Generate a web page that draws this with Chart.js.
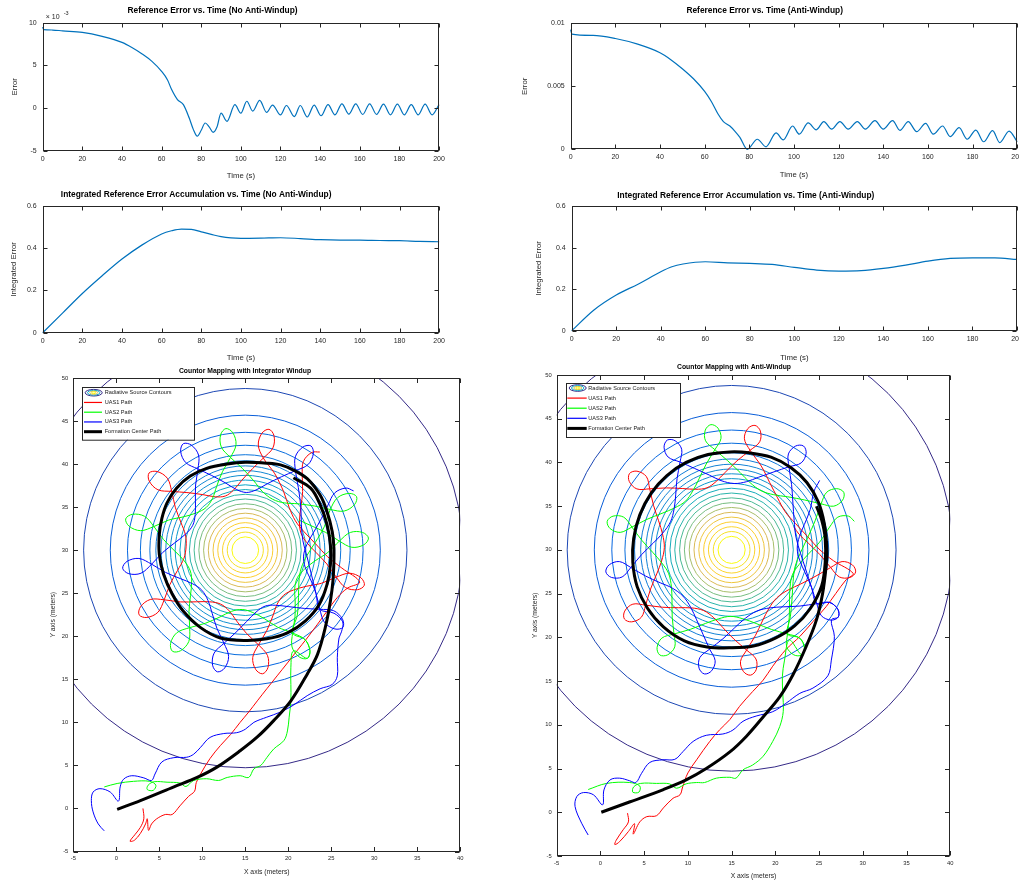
<!DOCTYPE html>
<html><head><meta charset="utf-8">
<script src="https://cdn.jsdelivr.net/npm/chart.js@4.4.1/dist/chart.umd.min.js"></script>
<style>
html,body{margin:0;padding:0;background:#fff;overflow:hidden;width:1019px;height:882px;position:relative;}
canvas{position:absolute;}
</style></head><body>
<canvas id="c1"></canvas><canvas id="c2"></canvas><canvas id="c3"></canvas><canvas id="c4"></canvas><canvas id="c5"></canvas><canvas id="c6"></canvas>
<script>
// ---------------- DATA ----------------
const errTimeNoAW = [0,0.5,5,10,20,30,40,45,50,55,60,63,65,68,71,74,76,78,80,82,84,86,88,90,93,97,100,103,106,109.5,113,116,120,123,127,130,133.5,137,140.5,144,147.5,151,154.5,158,161.5,165,168.5,172,175.5,179,182.5,186,189.5,193,196.5,200];
const errNoAW = [9.5,9.2,9.15,9.05,8.87,8.4,7.7,7.1,6.37,5.5,4.3,3.3,2.2,1.0,0.4,-1.2,-2.5,-3.3,-2.6,-1.75,-2.2,-2.85,-2.2,-0.6,-1.55,0.4,-0.6,0.8,-0.35,0.9,-0.5,0.35,-0.8,0.3,-1.0,0.3,-1.05,0.35,-0.9,0.4,-0.8,0.5,-0.7,0.5,-0.75,0.5,-0.75,0.45,-0.8,0.45,-0.8,0.4,-0.8,0.45,-0.8,0.4]; // x 1e-3
const errTimeAW = [0,0.5,10,20,30,40,45,50,55,60,63,66,68.4,71.3,73.5,75.8,79.1,83.6,87.5,92,95.2,99.4,102.4,106.4,110,113.4,116.9,120.6,124.3,128.4,132,136.3,140,144.2,147.5,151.2,155,159,162.4,166.6,170,174,177.6,181.5,185,189,192.2,196.4,200];
const errAW = [0.0095,0.00915,0.00905,0.0088,0.00835,0.00767,0.0071,0.0064,0.0056,0.0046,0.0038,0.0028,0.0022,0.00185,0.00145,0.00095,0.0,0.0008,0.0002,0.0013,0.00075,0.00185,0.0012,0.0021,0.00155,0.0022,0.0016,0.0022,0.0016,0.0022,0.0016,0.00227,0.0016,0.00227,0.0015,0.0022,0.0014,0.00206,0.0012,0.00185,0.001,0.00172,0.0008,0.00153,0.0006,0.00148,0.00053,0.00145,0.0006];
const intTimeNoAW = [0,10,20,30,40,50,60,65,70,75,80,85,90,95,100,110,120,130,140,150,160,170,180,190,200];
const intNoAW = [0,0.093,0.186,0.27,0.349,0.415,0.468,0.483,0.491,0.49,0.478,0.466,0.455,0.449,0.447,0.448,0.45,0.446,0.441,0.439,0.439,0.437,0.436,0.433,0.431];
const intTimeAW = [0,10,20,30,40,45,50,60,70,80,90,100,110,120,130,140,150,160,170,180,190,200];
const intAW = [0,0.1,0.172,0.225,0.284,0.308,0.321,0.332,0.327,0.324,0.319,0.305,0.292,0.287,0.289,0.30,0.316,0.335,0.348,0.351,0.351,0.343];

const sourceCenter = [15, 30];
const contourRadii = [25.3,18.8,15.7,13.7,12.2,11.1,10.4,9.8,9.25,8.7,8.15,7.6,7.05,6.5,5.95,5.4,4.85,4.3,3.75,3.2,2.65,2.1,1.55];

// Windup map: formation centre path (x,y)
const centerWindup = [[0.1,-0.1],[2.8,0.9],[6.7,2.5],[9.4,3.6],[11.7,4.8],[14.4,6.7],[16.4,8.3],[18.3,10.2],[20.3,12.5],[22.2,15.6],[23.4,17.9],[24.3,21.0],[24.9,24.1],[25.2,26.5],[25.3,28.5],[25.3,30.3],[25.1,32.2],[24.5,34.5],[23.7,36.4],[22.2,38.3],[20.6,39.3],[19.1,39.9],[17.5,40.1],[15.0,40.2],[12.9,40.0],[10.5,39.5],[8.6,38.6],[7.0,37.2],[5.9,35.5],[5.3,33.7],[5.0,31.8],[5.0,29.5],[5.5,27.2],[6.5,24.9],[7.8,22.9],[9.8,21.0],[12.1,19.8],[15.0,19.5],[17.5,19.7],[19.9,20.4],[22.0,21.8],[23.6,23.7],[24.5,26.0],[24.9,28.3],[24.9,30.6],[24.5,33.0],[23.7,35.3],[22.6,37.2],[20.6,38.4]];
// UAS approach legs (x,y)
const uas1ApproachWindup = [[3.1,0.0],[3.2,-1.2],[2.8,-2.2],[2.2,-3.0],[1.6,-3.8],[2.1,-3.7],[2.8,-2.9],[3.4,-1.8],[3.6,-1.2],[3.75,-2.55],[4.1,-1.8],[4.7,-1.2],[5.7,-0.7],[6.5,-0.7],[7.4,0.3],[8.4,1.4],[9.1,2.0],[9.3,3.0],[9.8,4.0],[10.9,5.8],[12.1,7.3],[13.3,8.6],[14.4,10.0],[15.4,11.2],[16.4,12.5],[17.5,13.9],[18.7,15.4],[19.9,16.9],[21.0,18.3],[22.2,19.8],[23.4,21.4],[24.5,22.9],[25.7,24.5],[26.9,25.6],[28.3,26.3]];
const uas2ApproachWindup = [[-1.4,2.5],[0.1,2.9],[2.0,3.15],[3.9,3.15],[4.6,2.7],[4.3,2.1],[3.6,2.2],[3.7,2.7],[4.4,3.1],[5.9,3.05],[7.4,2.95],[8.1,2.55],[9.0,3.25],[10.5,3.45],[11.9,3.25],[12.9,3.6],[14.4,3.8],[15.4,3.6],[16.0,4.6],[16.8,5.0],[17.5,5.9],[18.3,6.9],[19.5,7.9],[19.9,9.0],[20.1,10.6],[20.3,12.5],[20.3,14.4],[20.3,16.4],[20.6,18.3]];
const uas3ApproachWindup = [[-1.4,-2.6],[-2.1,-1.8],[-2.7,-0.4],[-2.9,0.9],[-2.7,1.9],[-1.9,2.3],[-0.7,1.9],[0.25,0.85],[0.45,2.5],[0.85,3.4],[1.8,3.8],[3.2,3.55],[4.1,3.25],[4.5,4.0],[5.3,5.4],[6.7,5.9],[8.2,5.95],[9.0,6.3],[9.8,7.1],[10.9,8.25],[12.5,8.7],[14.0,8.8],[15.0,9.2],[16.0,10.0],[17.5,10.6],[19.1,11.2],[20.6,12.0],[22.2,13.1],[23.7,13.9],[25.1,14.4],[25.7,15.4],[25.7,17.5],[25.9,19.8]];
// UAS orbit legs read as [bearing deg, distance] from the source centre
const orbitCenterWindup = [15, 29.9];
const uas1OrbitWindup = [[-10,11.4],[-4,9.6],[6,8.2],[18,7.2],[31,6.8],[45,7.2],[57,8.2],[69,9.6],[79,11.0],[83,12.4],[82,13.8],[79,14.4],[76,13.8],[75,12.4],[79,11.0],[85,9.6],[93,8.2],[101,7.2],[110,6.8],[119,7.2],[127,8.2],[135,9.6],[141,11.0],[145,12.4],[144,13.8],[141,14.4],[138,13.8],[137,12.4],[141,11.0],[148,9.6],[156,8.2],[165,7.2],[176,6.9],[187,7.2],[196,8.2],[204,9.6],[211,11.0],[215,12.4],[214,13.8],[211,14.4],[208,13.8],[207,12.4],[211,11.0],[218,9.6],[226,8.2],[235,7.2],[245,6.8],[255,7.2],[263,8.2],[271,9.6],[278,11.0],[282,12.4],[281,13.8],[278,14.4],[275,13.8],[274,12.4],[278,11.0],[285,9.6],[293,8.2],[301,7.2],[311,6.8],[321,7.2],[330,8.2],[337,9.6],[344,11.0],[348,12.4],[347,13.8],[344,14.4],[341,13.8],[340,12.4],[344,11.0],[351,9.6],[359,8.2],[368,7.2],[378,6.8],[389,7.2],[398,8.2],[406,9.6],[413,11.0],[417,12.4],[416,13.8],[413,14.4]];
const uas2OrbitWindup = [[300,14.4],[303,13.8],[304,12.4],[300,11.0],[309,9.6],[319,8.2],[330,7.2],[343,6.8],[356,7.2],[367,8.2],[377,9.6],[386,11.0],[390,12.4],[389,13.8],[386,14.4],[383,13.8],[382,12.4],[386,11.0],[393,9.6],[402,8.2],[411,7.2],[422,6.8],[434,7.2],[443,8.2],[452,9.6],[459,11.0],[463,12.4],[462,13.8],[459,14.4],[456,13.8],[455,12.4],[459,11.0],[466,9.6],[474,8.2],[482,7.2],[492,6.8],[502,7.2],[511,8.2],[518,9.6],[525,11.0],[529,12.4],[528,13.8],[525,14.4],[522,13.8],[521,12.4],[525,11.0],[532,9.6],[540,8.2],[549,7.2],[560,6.8],[570,7.2],[579,8.2],[587,9.6],[594,11.0],[598,12.4],[597,13.8],[594,14.4],[591,13.8],[590,12.4],[594,11.0],[601,9.6],[609,8.2],[617,7.2],[627,6.8],[637,7.2],[646,8.2],[653,9.6],[660,11.0],[664,12.4],[663,13.8],[660,14.4],[657,13.8],[656,12.4],[660,11.0],[667,9.6],[675,8.2],[683,7.2],[693,6.8],[703,7.2],[712,8.2],[719,9.6],[726,11.0],[730,12.4],[729,13.8],[726,14.4],[723,13.8],[722,12.4],[726,11.0],[733,9.6],[741,8.2],[750,7.2]];
const uas3OrbitWindup = [[320,14.6],[324,14.0],[325,12.6],[322,11.0],[329,9.6],[340,8.2],[355,7.2],[370,6.8],[385,7.2],[398,8.2],[410,9.6],[418,11.0],[422,12.4],[421,13.8],[418,14.4],[415,13.8],[414,12.4],[418,11.0],[424,9.6],[432,8.2],[440,7.2],[449,6.8],[458,7.2],[466,8.2],[474,9.6],[480,11.0],[484,12.4],[483,13.8],[480,14.4],[477,13.8],[476,12.4],[480,11.0],[487,9.6],[495,8.2],[504,7.2],[514,6.8],[524,7.2],[533,8.2],[541,9.6],[548,11.0],[552,12.4],[551,13.8],[548,14.4],[545,13.8],[544,12.4],[548,11.0],[555,9.6],[563,8.2],[572,7.2],[582,6.8],[593,7.2],[602,8.2],[610,9.6],[617,11.0],[621,12.4],[620,13.8],[617,14.4],[614,13.8],[613,12.4],[617,11.0],[623,9.6],[631,8.2],[640,7.2],[650,6.8],[659,7.2],[668,8.2],[676,9.6],[682,11.0],[686,12.4],[685,13.8],[682,14.4],[679,13.8],[678,12.4],[682,11.0],[689,9.6],[697,8.2],[705,7.2],[715,6.8],[726,7.2],[735,8.2],[743,9.6],[749,11.0],[753,12.4],[752,13.8],[749,14.4]];

// Anti-windup map
const centerAntiWindup = [[0.1,0.0],[3.4,1.2],[7.2,2.6],[9.8,3.7],[12.1,5.0],[14.8,6.9],[16.7,8.7],[18.6,10.9],[20.5,13.2],[22.0,15.7],[23.5,18.9],[24.7,22.0],[25.4,25.0],[25.8,28.1],[25.9,30.0],[25.6,33.0],[24.9,35.5],[23.6,37.7],[21.8,39.4],[19.5,40.6],[17.0,41.1],[14.8,41.2],[12.3,40.9],[9.8,40.0],[7.6,38.5],[5.8,36.5],[4.5,34.0],[3.8,31.3],[3.7,28.6],[4.2,25.8],[5.4,23.3],[7.2,21.2],[9.6,19.6],[12.2,18.9],[14.8,18.8],[17.5,19.0],[20.0,19.9],[22.2,21.3],[24.0,23.3],[25.3,25.9],[25.7,28.6],[25.7,31.3],[25.3,33.4],[24.7,35.0]];
const uas1ApproachAntiWindup = [[3.1,-0.1],[3.2,-1.1],[2.6,-2.0],[1.8,-3.2],[1.65,-3.7],[2.2,-3.35],[3.2,-2.2],[3.9,-1.3],[3.75,-2.5],[4.5,-1.1],[5.3,-0.5],[6.4,-0.4],[7.2,0.5],[8.3,1.6],[9.1,2.0],[9.4,2.9],[10.0,4.5],[11.0,6.0],[12.5,8.1],[13.6,9.4],[14.8,10.6],[15.9,12.1],[17.4,13.8],[18.6,15.1],[19.7,16.7],[21.2,18.6],[22.8,20.1],[24.3,21.8],[25.8,23.5],[26.9,25.0],[28.1,26.6],[28.9,27.3]];
const uas2ApproachAntiWindup = [[-1.4,2.6],[0.7,3.3],[3.35,3.4],[4.5,3.0],[4.4,2.3],[3.7,2.3],[3.8,2.9],[4.6,3.3],[6.4,3.3],[7.9,3.25],[8.7,2.75],[9.8,3.25],[11.0,3.4],[11.9,3.4],[13.25,3.9],[14.8,4.0],[15.5,3.9],[16.3,4.85],[17.4,5.4],[18.6,6.4],[19.7,8.1],[20.5,9.8],[20.9,11.5],[20.85,13.6],[20.8,15.5],[21.05,17.4],[21.6,19.7]];
const uas3ApproachAntiWindup = [[-1.4,-2.6],[-2.15,-1.25],[-2.9,0.65],[-2.7,1.8],[-1.95,2.25],[-0.8,2.0],[0.25,0.85],[0.4,2.55],[1.1,3.7],[2.2,3.9],[3.35,3.6],[4.05,3.4],[4.7,4.45],[5.65,5.7],[7.15,6.0],[8.5,6.05],[9.45,6.95],[10.6,8.1],[12.1,8.8],[14.0,8.95],[15.15,9.4],[16.3,10.4],[17.8,11.0],[19.7,11.5],[21.2,12.45],[22.8,13.6],[24.3,14.2],[26.0,15.6],[26.4,17.4],[26.75,20.1],[26.4,22.0]];
const orbitCenterAntiWindup = [14.9, 30];
const uas1OrbitAntiWindup = [[-6,11.8],[0,10.2],[10,8.9],[22,8.0],[35,7.6],[48,8.0],[60,8.9],[70,10.2],[79,11.6],[83,12.8],[82,14.0],[79,14.5],[76,14.0],[75,12.8],[79,11.6],[86,10.2],[94,8.9],[102,8.0],[111,7.6],[120,8.0],[128,8.9],[136,10.2],[143,11.6],[147,12.8],[146,14.0],[143,14.5],[140,14.0],[139,12.8],[143,11.6],[150,10.2],[158,8.9],[167,8.0],[178,7.6],[189,8.0],[198,8.9],[206,10.2],[213,11.6],[217,12.8],[216,14.0],[213,14.5],[210,14.0],[209,12.8],[213,11.6],[220,10.2],[228,8.9],[236,8.0],[246,7.6],[256,8.0],[264,8.9],[272,10.2],[279,11.6],[283,12.8],[282,14.0],[279,14.5],[276,14.0],[275,12.8],[279,11.6],[286,10.2],[294,8.9],[303,8.0],[314,7.6],[325,8.0],[334,8.9],[343,10.2],[350,11.6],[354,12.8],[353,14.0],[350,14.5],[347,14.0],[346,12.8],[350,11.6],[357,10.2],[365,8.9],[373,8.0],[380,7.7]];
const uas2OrbitAntiWindup = [[304,14.5],[307,14.0],[308,12.8],[304,11.6],[312,10.2],[322,8.9],[333,8.0],[345,7.6],[358,8.0],[369,8.9],[379,10.2],[387,11.6],[391,12.8],[390,14.0],[387,14.5],[384,14.0],[383,12.8],[387,11.6],[394,10.2],[403,8.9],[412,8.0],[423,7.6],[434,8.0],[443,8.9],[452,10.2],[459,11.6],[463,12.8],[462,14.0],[459,14.5],[456,14.0],[455,12.8],[459,11.6],[466,10.2],[474,8.9],[483,8.0],[493,7.6],[503,8.0],[512,8.9],[520,10.2],[527,11.6],[531,12.8],[530,14.0],[527,14.5],[524,14.0],[523,12.8],[527,11.6],[534,10.2],[542,8.9],[551,8.0],[561,7.6],[572,8.0],[581,8.9],[589,10.2],[596,11.6],[600,12.8],[599,14.0],[596,14.5],[593,14.0],[592,12.8],[596,11.6],[603,10.2],[611,8.9],[620,8.0],[630,7.6],[640,8.0],[649,8.9],[657,10.2],[664,11.6],[668,12.8],[667,14.0],[664,14.5],[661,14.0],[660,12.8],[664,11.6],[671,10.2],[679,8.9],[688,8.0],[698,7.6],[708,8.0],[717,8.9],[725,10.2],[733,11.6],[737,12.8],[736,14.0],[733,14.5]];
const uas3OrbitAntiWindup = [[328,14.5],[331,14.0],[332,12.8],[328,11.6],[335,10.2],[345,8.9],[357,8.0],[371,7.6],[385,8.0],[397,8.9],[407,10.2],[415,11.6],[419,12.8],[418,14.0],[415,14.5],[412,14.0],[411,12.8],[415,11.6],[421,10.2],[429,8.9],[437,8.0],[447,7.6],[458,8.0],[466,8.9],[474,10.2],[480,11.6],[484,12.8],[483,14.0],[480,14.5],[477,14.0],[476,12.8],[480,11.6],[487,10.2],[495,8.9],[504,8.0],[515,7.6],[526,8.0],[535,8.9],[543,10.2],[550,11.6],[554,12.8],[553,14.0],[550,14.5],[547,14.0],[546,12.8],[550,11.6],[557,10.2],[565,8.9],[573,8.0],[584,7.6],[595,8.0],[604,8.9],[612,10.2],[618,11.6],[622,12.8],[621,14.0],[618,14.5],[615,14.0],[614,12.8],[618,11.6],[625,10.2],[633,8.9],[642,8.0],[653,7.6],[664,8.0],[673,8.9],[681,10.2],[688,11.6],[692,12.8],[691,14.0],[688,14.5],[685,14.0],[684,12.8],[688,11.6],[695,10.2],[703,8.9],[711,8.0],[721,7.6],[731,8.0],[739,8.9],[747,10.2],[755,11.6],[758,12.9]];

// ---------------- STYLE / HELPERS ----------------
Chart.defaults.font.family = "'Liberation Sans', Arial, Helvetica, sans-serif";
Chart.defaults.color = '#262626';
const xy = list => list.map(([x, y]) => ({x, y}));
const fromBearing = (list, c) => list.map(([a, r]) => ({x: c[0] + r * Math.cos(a * Math.PI / 180), y: c[1] + r * Math.sin(a * Math.PI / 180)}));
const fmt = v => String(Number(Number(v).toPrecision(6)));

const parula = [[0,[53,42,135]],[0.1,[3,99,225]],[0.2,[20,133,212]],[0.3,[6,167,198]],[0.4,[56,185,158]],[0.5,[146,191,115]],[0.6,[217,186,86]],[0.7,[252,206,46]],[0.85,[245,224,36]],[1,[249,251,14]]];
// colour position of each contour ring (outer -> inner) on the colormap
const ringShade = [0,0.05,0.09,0.11,0.13,0.15,0.17,0.19,0.21,0.23,0.26,0.29,0.33,0.37,0.42,0.47,0.53,0.60,0.66,0.70,0.75,0.85,1.0];
function parulaColor(t) {
  for (let i = 1; i < parula.length; i++) {
    if (t <= parula[i][0]) {
      const [t0, c0] = parula[i-1], [t1, c1] = parula[i];
      const f = (t - t0) / (t1 - t0);
      return 'rgb(' + c0.map((v, k) => Math.round(v + (c1[k] - v) * f)).join(',') + ')';
    }
  }
  return 'rgb(249,251,14)';
}

const framePlugin = {
  id: 'frame',
  afterDraw(chart, args, o) {
    const {ctx, chartArea: a, scales: {x, y}} = chart;
    const L = o.tickLen || 4;
    ctx.save();
    ctx.strokeStyle = '#262626'; ctx.lineWidth = 1;
    const l = Math.round(a.left) + 0.5, r = Math.round(a.right) - 0.5, t = Math.round(a.top) + 0.5, b = Math.round(a.bottom) - 0.5;
    ctx.strokeRect(l, t, r - l, b - t);
    ctx.beginPath();
    x.ticks.forEach(tk => { const p = Math.round(x.getPixelForValue(tk.value)) + 0.5; ctx.moveTo(p, b); ctx.lineTo(p, b - L); ctx.moveTo(p, t); ctx.lineTo(p, t + L); });
    y.ticks.forEach(tk => { const p = Math.round(y.getPixelForValue(tk.value)) + 0.5; ctx.moveTo(l, p); ctx.lineTo(l + L, p); ctx.moveTo(r, p); ctx.lineTo(r - L, p); });
    ctx.stroke();
    if (o.exponent) {
      ctx.fillStyle = '#262626'; ctx.textBaseline = 'alphabetic'; ctx.textAlign = 'left';
      ctx.font = "7px 'Liberation Sans', Arial, sans-serif";
      ctx.fillText('\u00d7 10', a.left + 3, a.top - 4);
      ctx.font = "5.5px 'Liberation Sans', Arial, sans-serif";
      ctx.fillText(o.exponent, a.left + 21, a.top - 8);
    }
    ctx.restore();
  }
};

function lineChart(id, g, ts, vs, yOpt, titleText, yTitle, exponent) {
  const el = document.getElementById(id);
  el.width = g.W; el.height = g.H; el.style.left = g.X0 + 'px'; el.style.top = g.Y0 + 'px';
  return new Chart(el, {
    type: 'line',
    data: {datasets: [{data: ts.map((t, i) => ({x: t, y: vs[i]})), borderColor: '#0072bd', borderWidth: 1.2, pointRadius: 0, cubicInterpolationMode: 'monotone', fill: false, clip: 2}]},
    options: {
      responsive: false, animation: false, events: [],
      layout: {padding: {left: g.pl, right: g.pr, top: 0, bottom: 0}},
      plugins: {
        legend: {display: false}, tooltip: {enabled: false},
        title: {display: true, text: titleText, color: '#000', font: {size: 8.4, weight: 'bold'}, padding: {top: g.tt, bottom: g.tb}},
        frame: {tickLen: 4, exponent}
      },
      scales: {
        x: {type: 'linear', min: 0, max: 200,
            ticks: {stepSize: 20, font: {size: 7}, color: '#262626', padding: 4, maxRotation: 0, autoSkip: false, callback: fmt},
            grid: {display: false, drawTicks: false}, border: {display: false},
            title: {display: true, text: 'Time (s)', color: '#262626', font: {size: 7.8}, padding: {top: 0, bottom: g.xb}},
            afterFit: s => { s.height = g.hx; }},
        y: {type: 'linear', min: yOpt.min, max: yOpt.max,
            ticks: {stepSize: yOpt.step, font: {size: 7}, color: '#262626', padding: 6, autoSkip: false, callback: fmt},
            grid: {display: false, drawTicks: false}, border: {display: false},
            title: {display: true, text: yTitle, color: '#262626', font: {size: 7.8}, padding: {top: g.yt, bottom: 0}},
            afterFit: s => { s.width = g.yw; }}
      }
    },
    plugins: [framePlugin]
  });
}

lineChart('c1', {X0: -14, Y0: 0, W: 463, H: 182, pl: 0, pr: 10, yw: 56.7, hx: 31.3, tt: 5.3, tb: 7.4, xb: 1.6, yt: 24.3},
  errTimeNoAW, errNoAW, {min: -5, max: 10, step: 5}, 'Reference Error vs. Time (No Anti-Windup)', 'Error', '-3');
lineChart('c2', {X0: 500, Y0: 0, W: 527, H: 182, pl: 12.1, pr: 9.7, yw: 58.6, hx: 32.7, tt: 5.3, tb: 8.0, xb: 2.3, yt: 8.2},
  errTimeAW, errAW, {min: 0, max: 0.01, step: 0.005}, 'Reference Error vs. Time (Anti-Windup)', 'Error');
lineChart('c3', {X0: -47, Y0: 182, W: 496, H: 182, pl: 0, pr: 9.7, yw: 89.7, hx: 31.3, tt: 8.0, tb: 6.0, xb: 1.3, yt: 56.3},
  intTimeNoAW, intNoAW, {min: 0, max: 0.6, step: 0.2}, 'Integrated Reference Error Accumulation vs. Time (No Anti-Windup)', 'Integrated Error');
lineChart('c4', {X0: 470, Y0: 182, W: 557, H: 182, pl: 4.6, pr: 10, yw: 97.1, hx: 33.3, tt: 8.3, tb: 5.7, xb: 1.6, yt: 59.7},
  intTimeAW, intAW, {min: 0, max: 0.6, step: 0.2}, 'Integrated Reference Error Accumulation vs. Time (Anti-Windup)', 'Integrated Error');

const mapLegend = {
  id: 'mapLegend',
  afterDraw(chart, args, o) {
    const {ctx, chartArea: a} = chart;
    const bx = Math.round(a.left + o.dx), by = Math.round(a.top + o.dy);
    ctx.save();
    ctx.fillStyle = '#fff'; ctx.fillRect(bx, by, o.w, o.h);
    ctx.strokeStyle = '#262626'; ctx.lineWidth = 1; ctx.strokeRect(bx + 0.5, by + 0.5, o.w, o.h);
    ctx.font = "5.6px 'Liberation Sans', Arial, sans-serif"; ctx.textBaseline = 'middle'; ctx.textAlign = 'left'; ctx.fillStyle = '#1a1a1a';
    [4, 3, 2, 1, 0].forEach((di, row) => {
      const ds = chart.data.datasets[di];
      const yy = by + o.row0 + row * o.rowDy;
      if (row === 0) {
        [[8.5, 3.3, 0], [6.2, 2.4, 0.3], [4.0, 1.6, 0.6], [2.0, 0.9, 1]].forEach(([rx, ry, t]) => {
          ctx.beginPath(); ctx.strokeStyle = parulaColor(t); ctx.lineWidth = 1;
          ctx.ellipse(bx + o.iconX, yy, rx, ry, 0, 0, Math.PI * 2); ctx.stroke();
        });
      } else {
        ctx.beginPath(); ctx.strokeStyle = ds.borderColor; ctx.lineWidth = di === 0 ? 3 : 1.2;
        ctx.moveTo(bx + o.lx0, yy); ctx.lineTo(bx + o.lx1, yy); ctx.stroke();
      }
      ctx.fillText(ds.label, bx + o.textX, yy);
    });
    ctx.restore();
  }
};

function mapChart(id, g, center, uas1, uas2, uas3, titleText, leg) {
  const el = document.getElementById(id);
  el.width = g.W; el.height = g.H; el.style.left = g.X0 + 'px'; el.style.top = g.Y0 + 'px';
  const path = (label, data, color, w, order) => ({type: 'scatter', label, data, showLine: true, borderColor: color, borderWidth: w, pointRadius: 0, tension: 0.35, fill: false, order, clip: 0});
  return new Chart(el, {
    type: 'scatter',
    data: {datasets: [
      path('Formation Center Path', center, '#000000', 3, 1),
      path('UAS3 Path', uas3, '#0000ff', 1, 2),
      path('UAS2 Path', uas2, '#00ff00', 1, 3),
      path('UAS1 Path', uas1, '#ff0000', 1, 4),
      {type: 'scatter', label: 'Radiative Source Contours', order: 5, clip: 0, showLine: false,
       data: contourRadii.map(() => ({x: sourceCenter[0], y: sourceCenter[1]})),
       pointStyle: 'circle', pointBackgroundColor: 'rgba(0,0,0,0)', pointBorderWidth: 1,
       pointBorderColor: c => parulaColor(ringShade[c.dataIndex]),
       pointRadius: c => { const s = c.chart.scales.x; return Math.abs(s.getPixelForValue(sourceCenter[0] + contourRadii[c.dataIndex]) - s.getPixelForValue(sourceCenter[0])); }}
    ]},
    options: {
      responsive: false, animation: false, events: [],
      layout: {padding: {left: g.pl, right: g.pr, top: 0, bottom: 0}},
      plugins: {
        legend: {display: false}, tooltip: {enabled: false},
        title: {display: true, text: titleText, color: '#000', font: {size: 6.8, weight: 'bold'}, padding: {top: g.tt, bottom: g.tb}},
        frame: {tickLen: 4.5}, mapLegend: leg
      },
      scales: {
        x: {type: 'linear', min: -5, max: 40,
            ticks: {stepSize: 5, font: {size: 5.8}, color: '#262626', padding: 3.5, maxRotation: 0, autoSkip: false},
            grid: {display: false, drawTicks: false}, border: {display: false},
            title: {display: true, text: 'X axis (meters)', color: '#262626', font: {size: 6.8}, padding: {top: 0, bottom: g.xb}},
            afterFit: s => { s.height = g.hx; }},
        y: {type: 'linear', min: -5, max: 50,
            ticks: {stepSize: 5, font: {size: 5.8}, color: '#262626', padding: 5, autoSkip: false},
            grid: {display: false, drawTicks: false}, border: {display: false},
            title: {display: true, text: 'Y axis (meters)', color: '#262626', font: {size: 6.8}, padding: {top: g.yt, bottom: 0}},
            afterFit: s => { s.width = g.yw; }}
      }
    },
    plugins: [framePlugin, mapLegend]
  });
}

mapChart('c5', {X0: 20, Y0: 362, W: 447, H: 516, pl: 9, pr: 6, yw: 44.3, hx: 26.5, tt: 4.6, tb: 3.2, xb: 1.6, yt: 19.6},
  xy(centerWindup),
  xy(uas1ApproachWindup).concat(fromBearing(uas1OrbitWindup, orbitCenterWindup)),
  xy(uas2ApproachWindup).concat(fromBearing(uas2OrbitWindup, orbitCenterWindup)),
  xy(uas3ApproachWindup).concat(fromBearing(uas3OrbitWindup, orbitCenterWindup)),
  'Countor Mapping with Integrator Windup',
  {dx: 9, dy: 9, w: 112, h: 52.7, row0: 5.7, rowDy: 9.75, iconX: 11.7, lx0: 2, lx1: 20, textX: 22.7});
mapChart('c6', {X0: 510, Y0: 359, W: 447, H: 523, pl: 7, pr: 6, yw: 39.7, hx: 26, tt: 4.2, tb: 3.6, xb: 1.9, yt: 13.9},
  xy(centerAntiWindup),
  xy(uas1ApproachAntiWindup).concat(fromBearing(uas1OrbitAntiWindup, orbitCenterAntiWindup)),
  xy(uas2ApproachAntiWindup).concat(fromBearing(uas2OrbitAntiWindup, orbitCenterAntiWindup)),
  xy(uas3ApproachAntiWindup).concat(fromBearing(uas3OrbitAntiWindup, orbitCenterAntiWindup)),
  'Countor Mapping with Anti-Windup',
  {dx: 9.3, dy: 8.3, w: 114, h: 54, row0: 5, rowDy: 10.1, iconX: 11.7, lx0: 1.3, lx1: 20.7, textX: 22.3});
</script></body></html>
